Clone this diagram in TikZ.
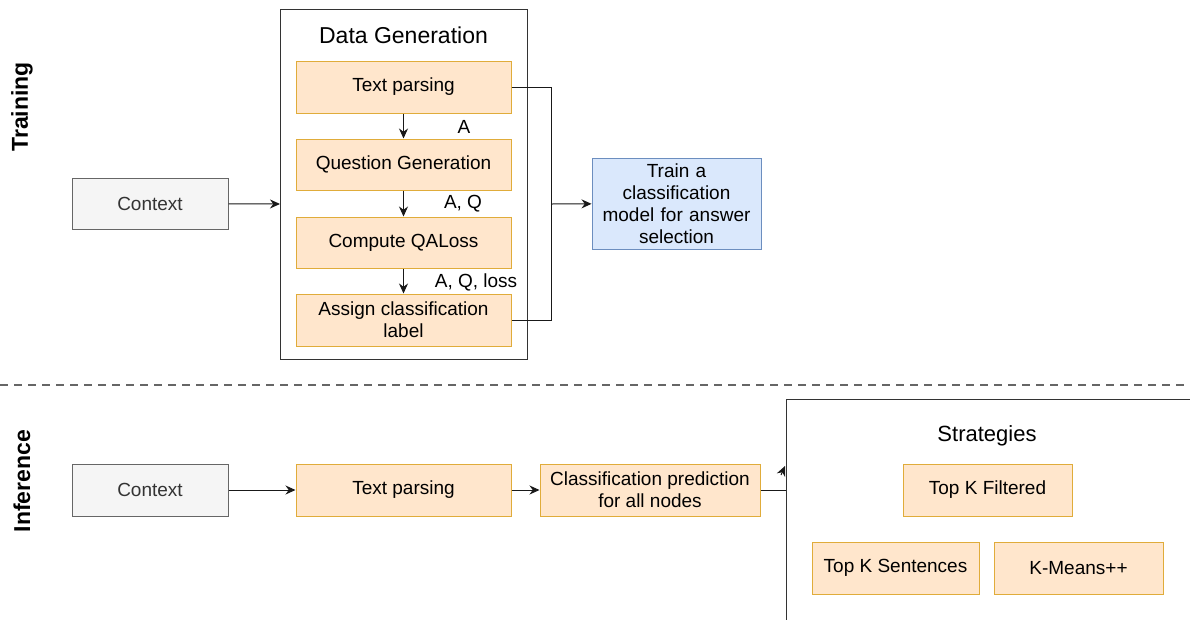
\documentclass[tikz,border=0pt]{standalone}
\usepackage{fontspec}
\setmainfont{Liberation Sans}
\usetikzlibrary{arrows.meta}
\definecolor{orfill}{HTML}{FFE6CC}
\definecolor{ordraw}{HTML}{E0AC3A}
\definecolor{bfill}{HTML}{DAE8FC}
\definecolor{bdraw}{HTML}{6C8EBF}
\definecolor{gfill}{HTML}{F5F5F5}
\definecolor{gdraw}{HTML}{666666}
\definecolor{gtext}{HTML}{333333}
\tikzset{
  box/.style={draw, line width=1pt, inner sep=2pt, align=center, font=\fontsize{19}{22}\selectfont},
  obox/.style={box, fill=orfill, draw=ordraw},
  gbox/.style={box, fill=gfill, draw=gdraw, text=gtext},
  bbox/.style={box, fill=bfill, draw=bdraw},
  cont/.style={draw=black!80, line width=1pt},
  conn/.style={line width=1pt, black!90},
  arr/.style={conn, -{Stealth[length=10pt,width=9pt]}},
  lab/.style={font=\fontsize{19}{22}\selectfont},
  side/.style={rotate=90, font=\bfseries\fontsize{23}{26}\selectfont},
}
\begin{document}
\begin{tikzpicture}[x=1pt,y=-1pt]
\useasboundingbox (0,0) rectangle (1190,619);
\begin{scope}
\clip (0,0) rectangle (1190,619);
% side labels
\node[side] (trainlab) at (22,107) {Training};
\node[side] (inflab) at (22,481) {Inference};
% dashed separator
\draw[gdraw, line width=1.2pt, dash pattern=on 8pt off 6pt] (0,385) coordinate (d1) -- (1190,385) coordinate (d2);

% ---- training
\node[gbox, minimum width=156pt, minimum height=51pt] (ctx1) at (150,203.5) {Context};
\draw[cont] (280,9) rectangle (527,359);
\coordinate (dgw) at (280,204);
\node[font=\fontsize{23}{26}\selectfont] (dgtitle) at (403.5,35) {Data Generation};
\node[obox, minimum width=215pt, minimum height=52pt] (tp1) at (403.5,87) {Text parsing};
\node[obox, minimum width=215pt, minimum height=51pt] (qg) at (403.5,164.5) {Question Generation};
\node[obox, minimum width=215pt, minimum height=51pt] (qal) at (403.5,242.5) {Compute QALoss};
\node[obox, minimum width=215pt, minimum height=52pt] (acl) at (403.5,320) {Assign classification\\label};
\draw[arr] (tp1) -- (qg);
\draw[arr] (qg) -- (qal);
\draw[arr] (qal) -- (acl);
\node[lab] (la) at (464,127) {A};
\node[lab] (laq) at (463,204) {A, Q};
\node[lab] (laql) at (476,282) {A, Q, loss};
\draw[arr] (ctx1) -- (dgw);
\node[bbox, minimum width=169pt, minimum height=91pt, text width=160pt] (train) at (676.5,203.5) {Train a\\classification\\model for answer\\selection};
\coordinate (j1) at (551,87);
\coordinate (j2) at (551,320);
\coordinate (j3) at (551,204);
\draw[conn] (tp1.east) -- (j1) -- (j2) -- (acl.east);
\draw[arr] (j3) -- (train);

% ---- inference
\node[gbox, minimum width=156pt, minimum height=52pt] (ctx2) at (150,490) {Context};
\node[obox, minimum width=215pt, minimum height=52pt] (tp2) at (403.5,490) {Text parsing};
\node[obox, minimum width=220pt, minimum height=52pt] (pred) at (650,490) {Classification prediction\\for all nodes};
\draw[cont] (786,399) rectangle (1200,640);
\coordinate (stw) at (786,490);
\node[font=\fontsize{22}{25}\selectfont] (sttitle) at (987,436) {Strategies};
\node[obox, minimum width=169pt, minimum height=52pt] (tkf) at (987.5,490) {Top K Filtered};
\node[obox, minimum width=167pt, minimum height=52pt] (tks) at (895.5,568) {Top K Sentences};
\node[obox, minimum width=169pt, minimum height=52pt] (km) at (1078.5,568) {K-Means++};
\draw[arr] (ctx2) -- (tp2);
\draw[arr] (tp2) -- (pred);
\draw[conn] (pred) -- (stw);
\coordinate (ah1) at (781,475);
\coordinate (ah2) at (785,466);
\draw[arr] (ah1) -- (ah2);
\end{scope}
\end{tikzpicture}
\end{document}
